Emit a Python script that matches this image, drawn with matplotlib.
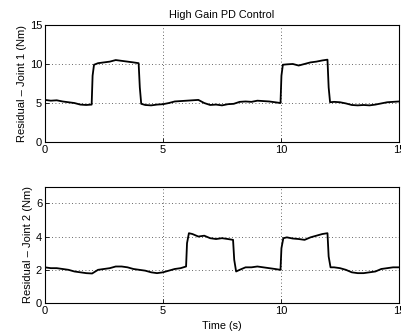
import matplotlib
matplotlib.use("Agg")
import matplotlib.pyplot as plt

plt.rcParams['font.family'] = ['Liberation Sans', 'DejaVu Sans']

title = "High Gain PD Control"
ylabel1 = "Residual \u2013 Joint 1 (Nm)"
ylabel2 = "Residual \u2013 Joint 2 (Nm)"
xlabel = "Time (s)"

# Joint 1 residual
t1 = [0.0, 0.25, 0.5, 0.75, 1.0, 1.25, 1.5, 1.75, 1.98, 2.02, 2.08, 2.25, 2.5, 2.75, 3.0, 3.25, 3.5, 3.75, 3.97,
      4.02, 4.08, 4.25, 4.5, 4.75, 5.0, 5.25, 5.5, 5.75, 6.0, 6.25, 6.5, 6.75, 7.0, 7.25, 7.5, 7.75, 8.0, 8.25,
      8.5, 8.75, 9.0, 9.25, 9.5, 9.75, 9.98, 10.02, 10.08, 10.25, 10.5, 10.75, 11.0, 11.25, 11.5, 11.75, 11.97,
      12.02, 12.08, 12.25, 12.5, 12.75, 13.0, 13.25, 13.5, 13.75, 14.0, 14.25, 14.5, 14.75, 15.0]
r1 = [5.4, 5.3, 5.35, 5.2, 5.1, 5.0, 4.8, 4.75, 4.8, 8.5, 9.9, 10.1, 10.2, 10.3, 10.5, 10.4, 10.3, 10.2, 10.1,
      7.0, 4.9, 4.75, 4.7, 4.8, 4.85, 5.0, 5.2, 5.25, 5.3, 5.35, 5.4, 5.0, 4.75, 4.8, 4.7, 4.85, 4.9, 5.15,
      5.2, 5.15, 5.3, 5.25, 5.2, 5.1, 5.0, 8.5, 9.9, 9.95, 10.0, 9.8, 10.0, 10.2, 10.3, 10.45, 10.55,
      7.0, 5.1, 5.15, 5.1, 4.95, 4.75, 4.7, 4.75, 4.7, 4.8, 4.95, 5.1, 5.15, 5.2]

# Joint 2 residual
t2 = [0.0, 0.25, 0.5, 0.75, 1.0, 1.25, 1.5, 1.75, 2.0, 2.25, 2.5, 2.75, 3.0, 3.25, 3.5, 3.75, 4.0, 4.25, 4.5,
      4.75, 5.0, 5.25, 5.5, 5.75, 5.98, 6.02, 6.1, 6.25, 6.5, 6.75, 7.0, 7.25, 7.5, 7.75, 7.97, 8.02, 8.1, 8.25,
      8.5, 8.75, 9.0, 9.25, 9.5, 9.75, 9.98, 10.02, 10.1, 10.25, 10.5, 10.75, 11.0, 11.25, 11.5, 11.75, 11.97,
      12.02, 12.1, 12.25, 12.5, 12.75, 13.0, 13.25, 13.5, 13.75, 14.0, 14.25, 14.5, 14.75, 15.0]
r2 = [2.15, 2.1, 2.1, 2.05, 2.0, 1.9, 1.85, 1.8, 1.78, 2.0, 2.05, 2.1, 2.2, 2.2, 2.15, 2.05, 2.0, 1.95, 1.85,
      1.8, 1.85, 1.95, 2.05, 2.1, 2.2, 3.6, 4.2, 4.15, 4.0, 4.05, 3.9, 3.85, 3.9, 3.85, 3.8, 2.6, 1.9, 2.0,
      2.15, 2.15, 2.2, 2.15, 2.1, 2.05, 2.0, 3.3, 3.9, 3.95, 3.88, 3.85, 3.8, 3.95, 4.05, 4.15, 4.2,
      2.8, 2.15, 2.15, 2.1, 2.0, 1.85, 1.8, 1.8, 1.85, 1.9, 2.05, 2.1, 2.15, 2.15]

fig = plt.figure(figsize=(4.01, 3.32), dpi=100)
ax1 = fig.add_axes([0.112, 0.572, 0.883, 0.353])
ax2 = fig.add_axes([0.112, 0.087, 0.883, 0.351])

for ax, t, r, ylim, yt, yl in [(ax1, t1, r1, (0, 15), [0, 5, 10, 15], ylabel1),
                               (ax2, t2, r2, (0, 7), [0, 2, 4, 6], ylabel2)]:
    ax.plot(t, r, color='black', lw=1.3)
    ax.set_xlim(0, 15)
    ax.set_ylim(*ylim)
    ax.set_xticks([0, 5, 10, 15])
    ax.set_yticks(yt)
    ax.grid(True, linestyle=(0, (1, 3)), color='black', lw=0.6, alpha=0.8)
    ax.tick_params(direction='in', labelsize=8, length=3, width=0.6, pad=2)
    for s in ax.spines.values():
        s.set_linewidth(0.8)
    ax.set_ylabel(yl, fontsize=8, labelpad=2)

ax1.set_title(title, fontsize=7.8, pad=5)
ax2.set_xlabel(xlabel, fontsize=7.8, labelpad=4)

fig.savefig("out.png", dpi=100)
